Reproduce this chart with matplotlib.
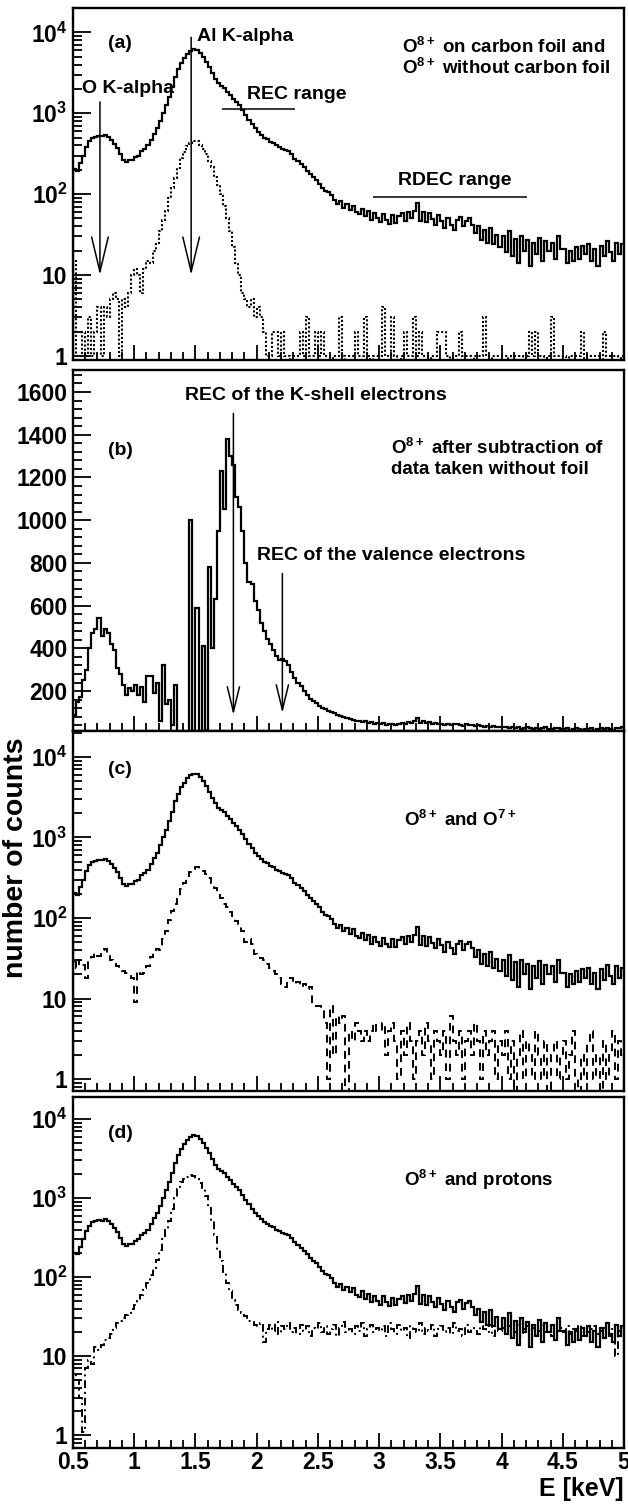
import numpy as np
import matplotlib
matplotlib.use('Agg')
import matplotlib.pyplot as plt
from matplotlib.ticker import MultipleLocator, LogLocator, FuncFormatter, NullFormatter

plt.rcParams['font.family'] = ['Liberation Sans', 'DejaVu Sans']
plt.rcParams['font.weight'] = 'bold'
plt.rcParams['mathtext.fontset'] = 'custom'
plt.rcParams['mathtext.rm'] = 'Liberation Sans:bold'
plt.rcParams['mathtext.bf'] = 'Liberation Sans:bold'
plt.rcParams['mathtext.it'] = 'Liberation Sans:bold'

# energy bins, 0.025 keV wide, 0.5 - 5 keV
edges = np.arange(0.5, 5.0001, 0.025)

# O8+ on carbon foil (solid line in a, c, d)
o8_foil = [
    205, 195, 240, 300, 380, 450, 495, 510, 525, 520, 540, 515, 470, 420, 370, 315, 262, 250, 262, 265,
    285, 300, 340, 360, 400, 470, 560, 650, 800, 1000, 1250, 1600, 2100, 2800, 3500, 4200, 4800, 5400, 5900, 6200,
    6100, 5600, 5000, 4300, 3700, 3100, 2650, 2350, 2200, 2050, 1850, 1680, 1520, 1380, 1250, 1100, 950, 830, 730, 650,
    590, 540, 500, 475, 445, 425, 400, 380, 365, 355, 340, 310, 275, 255, 235, 215, 195, 175, 162, 150,
    135, 118, 110, 105, 98, 85, 76, 82, 68, 76, 64, 72, 60, 56, 66, 53, 62, 48, 58, 50,
    45, 57, 48, 43, 55, 44, 53, 58, 47, 60, 50, 62, 78, 46, 60, 45, 58, 49, 42, 55,
    46, 38, 50, 42, 36, 48, 52, 40, 47, 50, 42, 33, 40, 27, 36, 25, 38, 24, 31, 22,
    30, 19, 35, 17, 28, 14, 30, 20, 27, 13, 25, 18, 29, 15, 26, 20, 25, 16, 30, 21,
    21, 14, 20, 15, 22, 16, 23, 18, 24, 15, 21, 13, 23, 17, 26, 19, 15, 25, 18, 24,
]

# O8+ without carbon foil (dotted, panel a)
o8_nofoil = [
    15, 1, 1, 2, 1, 3, 1, 2, 4, 1, 4, 3, 5, 6, 5, 1, 5, 4, 6, 10,
    12, 10, 6, 12, 15, 14, 20, 25, 35, 48, 62, 90, 120, 160, 210, 280, 330, 390, 430, 460,
    450, 410, 360, 310, 260, 215, 165, 130, 100, 72, 50, 35, 22, 14, 10, 6, 5, 4, 5, 3,
    4, 3, 2, 1, 1, 2, 2, 1, 2, 1, 1, 0, 1, 1, 2, 1, 3, 1, 1, 2,
    1, 2, 1, 1, 0, 1, 1, 3, 1, 0, 1, 1, 2, 1, 1, 3, 1, 0, 1, 1,
    1, 4, 1, 1, 3, 1, 0, 1, 2, 1, 1, 3, 1, 2, 1, 1, 0, 1, 1, 2,
    2, 2, 1, 0, 1, 1, 2, 1, 1, 1, 0, 1, 1, 1, 3, 1, 0, 1, 1, 1,
    1, 1, 0, 1, 1, 1, 1, 0, 1, 2, 1, 2, 1, 1, 0, 1, 3, 1, 1, 1,
    1, 0, 1, 1, 1, 1, 2, 0, 1, 1, 1, 1, 0, 2, 1, 1, 1, 1, 0, 1,
]

# O8+ after subtraction of the no-foil data (panel b)
o8_subtracted = [
    90, 150, 170, 250, 300, 400, 470, 490, 540, 460, 490, 470, 420, 390, 310, 280, 230, 180, 215, 200,
    230, 180, 220, 150, 270, 270, 190, 240, 60, 320, 140, 160, 40, 230, -150, -300, -400, -200, 1000, -50,
    590, -30, 410, 20, 780, 400, 630, 950, 1230, 1050, 1380, 1300, 1260, 1110, 1060, 950, 800, 710, 700, 620,
    580, 520, 480, 445, 420, 390, 365, 345, 350, 340, 320, 290, 260, 240, 222, 200, 180, 165, 155, 142,
    130, 122, 115, 108, 100, 95, 88, 84, 78, 75, 70, 66, 62, 60, 55, 58, 50, 54, 48, 52,
    45, 50, 42, 48, 44, 40, 46, 52, 48, 55, 50, 60, 72, 52, 58, 50, 54, 48, 52, 45,
    48, 42, 46, 40, 44, 48, 42, 38, 45, 40, 42, 36, 40, 38, 34, 38, 32, 36, 30, 34,
    30, 34, 28, 32, 26, 30, 24, 28, 30, 26, 24, 28, 22, 26, 30, 24, 22, 26, 28, 24,
    22, 26, 20, 24, 28, 22, 20, 24, 22, 26, 20, 24, 28, 22, 26, 24, 20, 28, 25, 30,
]

# O7+ (dashed, panel c)
o7 = [
    28, 24, 30, 26, 18, 30, 33, 37, 34, 40, 41, 34, 30, 28, 25, 24, 22, 21, 20, 18,
    9, 22, 20, 21, 25, 33, 39, 41, 40, 55, 69, 95, 123, 150, 170, 230, 275, 330, 370, 410,
    430, 410, 380, 350, 310, 270, 235, 205, 175, 150, 135, 120, 105, 93, 80, 69, 50, 55, 48, 36,
    34, 32, 30, 27, 24, 22, 20, 18, 15, 14, 17, 18, 15, 16, 14, 15, 13, 14, 8, 8,
    8, 7, 5, 1, 8, 2, 6, 5, 6, 0, 4, 3, 5, 4, 3, 4, 3, 4, 5, 4,
    4, 5, 2, 4, 5, 3, 1, 4, 2, 5, 3, 1, 3, 4, 2, 5, 3, 1, 4, 3,
    2, 4, 1, 6, 3, 2, 4, 1, 3, 4, 2, 5, 3, 1, 4, 2, 3, 4, 1, 3,
    2, 4, 1, 3, 0, 2, 4, 1, 3, 2, 1, 4, 2, 1, 3, 0, 2, 3, 1, 2,
    3, 1, 2, 4, 1, 0, 2, 1, 3, 4, 1, 2, 0, 3, 1, 2, 4, 1, 3, 2,
]

# protons (dash-dot, panel d)
protons = [
    6, 5, 3, 1.1, 7, 9, 8, 13, 12, 14, 16, 17, 19, 23, 26, 28, 30, 33, 35, 39,
    44, 50, 60, 72, 85, 105, 130, 165, 220, 300, 390, 520, 720, 1000, 1300, 1580, 1740, 1840, 1940, 1900,
    1760, 1560, 1300, 1050, 750, 520, 340, 220, 160, 115, 85, 66, 52, 45, 38, 35, 32, 28, 27, 25,
    24, 26, 15, 22, 25, 21, 27, 19, 24, 22, 26, 20, 23, 19, 25, 21, 24, 18, 23, 22,
    26, 20, 24, 19, 22, 25, 18, 23, 27, 20, 22, 19, 24, 21, 26, 18, 22, 25, 20, 23,
    21, 24, 18, 26, 22, 19, 25, 21, 23, 17, 24, 22, 20, 26, 19, 23, 21, 25, 18, 22,
    24, 20, 23, 19, 26, 21, 22, 18, 25, 20, 23, 21, 19, 24, 22, 20, 25, 18, 22, 21,
    23, 19, 24, 21, 20, 25, 18, 22, 24, 20, 23, 19, 21, 25, 20, 22, 18, 24, 21, 23,
    20, 24, 19, 22, 21, 25, 18, 23, 20, 22, 24, 19, 21, 23, 20, 18, 22, 10, 21, 24,
]

# marked lines (keV) and ranges
o_kalpha_e = 0.72
al_kalpha_e = 1.465
rec_range = [1.72, 2.31]
rdec_range = [2.95, 4.21]
rec_k_e = 1.81
rec_val_e = 2.21

fig = plt.figure(figsize=(6.28, 15.04), dpi=100)
L, W = 73 / 628, 551 / 628
ax_a = fig.add_axes([L, 1 - 360 / 1504, W, 352 / 1504])
ax_b = fig.add_axes([L, 1 - 731 / 1504, W, 361 / 1504])
ax_c = fig.add_axes([L, 1 - 1091 / 1504, W, 360 / 1504])
ax_d = fig.add_axes([L, 1 - 1448 / 1504, W, 351 / 1504])


def log_label(v, pos):
    if v == 1:
        return '1'
    if v == 10:
        return '10'
    return r'$\mathbf{10^{%d}}$' % round(np.log10(v))


def style_axis(ax, log=True, xlabels=False):
    ax.set_xlim(0.5, 5.0)
    for s in ax.spines.values():
        s.set_linewidth(1.7)
    ax.xaxis.set_major_locator(MultipleLocator(0.5))
    ax.xaxis.set_minor_locator(MultipleLocator(0.1))
    if log:
        ax.set_yscale('log')
        ax.yaxis.set_major_locator(LogLocator(base=10, numticks=10))
        ax.yaxis.set_minor_locator(LogLocator(base=10, subs=np.arange(2, 10), numticks=20))
        ax.yaxis.set_major_formatter(FuncFormatter(log_label))
        ax.yaxis.set_minor_formatter(NullFormatter())
    ax.tick_params(axis='both', which='both', direction='in', top=False, right=False,
                   width=1.3, labelsize=16.5)
    ax.tick_params(axis='y', which='major', length=13, pad=4)
    ax.tick_params(axis='y', which='minor', length=6.5)
    ax.tick_params(axis='x', which='major', length=11, pad=2)
    ax.tick_params(axis='x', which='minor', length=6)
    if xlabels:
        ax.xaxis.set_major_formatter(FuncFormatter(lambda v, p: '%g' % v))
    else:
        ax.tick_params(axis='x', labelbottom=False)


def down_arrow(ax, x, y0, y1, hl=1.25, hw=0.3):
    ax.annotate('', xy=(x, y1), xytext=(x, y0),
                arrowprops=dict(arrowstyle='->,head_length=%g,head_width=%g' % (hl, hw),
                                color='k', lw=1.1, shrinkA=0, shrinkB=0, mutation_scale=20))


def on_log(v):
    return np.clip(np.array(v, dtype=float), 0.1, None)


txt = dict(fontsize=14, fontweight='bold', va='center', ha='left')
leg = dict(fontsize=13.5, fontweight='bold', va='center', ha='left')

# (a)
ax_a.stairs(on_log(o8_foil), edges, color='k', lw=1.6)
ax_a.stairs(on_log(o8_nofoil), edges, color='k', lw=1.5, ls=(0, (1, 1)))
style_axis(ax_a)
ax_a.set_ylim(0.89, 2.0e4)
down_arrow(ax_a, o_kalpha_e, 1380, 10)
down_arrow(ax_a, al_kalpha_e, 8700, 10)
ax_a.hlines(1120, rec_range[0], rec_range[1], color='k', lw=1.1)
ax_a.hlines(92, rdec_range[0], rdec_range[1], color='k', lw=1.1)
ax_a.text(0.0635, 0.898, '(a)', transform=ax_a.transAxes, **txt)
ax_a.text(0.225, 0.920, 'Al K-alpha', transform=ax_a.transAxes, **txt)
ax_a.text(0.017, 0.770, 'O K-alpha', transform=ax_a.transAxes, **txt)
ax_a.text(0.316, 0.753, 'REC range', transform=ax_a.transAxes, **txt)
ax_a.text(0.589, 0.511, 'RDEC range', transform=ax_a.transAxes, **txt)
ax_a.text(0.598, 0.889, r'O$^{\mathbf{8+}}$ on carbon foil and', transform=ax_a.transAxes, **leg)
ax_a.text(0.598, 0.830, r'O$^{\mathbf{8+}}$ without carbon foil', transform=ax_a.transAxes, **leg)

# (b)
ax_b.stairs(o8_subtracted, edges, color='k', lw=1.6)
style_axis(ax_b, log=False)
ax_b.set_ylim(13, 1703)
ax_b.yaxis.set_major_locator(MultipleLocator(200))
ax_b.yaxis.set_minor_locator(MultipleLocator(40))
ax_b.yaxis.set_major_formatter(FuncFormatter(lambda v, p: '%d' % v))
down_arrow(ax_b, rec_k_e, 1500, 88, hl=0.9, hw=0.22)
down_arrow(ax_b, rec_val_e, 750, 97, hl=0.9, hw=0.22)
ax_b.text(0.0635, 0.777, '(b)', transform=ax_b.transAxes, **txt)
ax_b.text(0.203, 0.929, 'REC of the K-shell electrons', transform=ax_b.transAxes, **txt)
ax_b.text(0.334, 0.4875, 'REC of the valence electrons', transform=ax_b.transAxes, **txt)
ax_b.text(0.578, 0.784, r'O$^{\mathbf{8+}}$ after subtraction of', transform=ax_b.transAxes, **leg)
ax_b.text(0.578, 0.723, 'data taken without foil', transform=ax_b.transAxes, **leg)

# (c)
ax_c.stairs(on_log(o8_foil), edges, color='k', lw=1.6)
ax_c.stairs(on_log(o7), edges, color='k', lw=1.4, ls=(0, (4, 3)))
style_axis(ax_c)
ax_c.set_ylim(0.71, 2.1e4)
ax_c.text(0.0635, 0.894, '(c)', transform=ax_c.transAxes, **txt)
ax_c.text(0.600, 0.753, r'O$^{\mathbf{8+}}$ and O$^{\mathbf{7+}}$', transform=ax_c.transAxes, **leg)

# (d)
ax_d.stairs(on_log(o8_foil), edges, color='k', lw=1.6)
ax_d.stairs(on_log(protons), edges, color='k', lw=1.4, ls=(0, (4, 2, 1, 2)))
style_axis(ax_d, xlabels=True)
ax_d.set_ylim(0.69, 1.9e4)
ax_d.text(0.0635, 0.895, '(d)', transform=ax_d.transAxes, **txt)
ax_d.text(0.600, 0.764, r'O$^{\mathbf{8+}}$ and protons', transform=ax_d.transAxes, **leg)

fig.text(16 / 628, 1 - 858 / 1504, 'number of counts', rotation=90, ha='center', va='center',
         fontsize=20.5, fontweight='bold')
fig.text(624 / 628, 1 - 1489 / 1504, 'E [keV]', ha='right', va='center', fontsize=18, fontweight='bold')

fig.savefig('out.png', dpi=100)
